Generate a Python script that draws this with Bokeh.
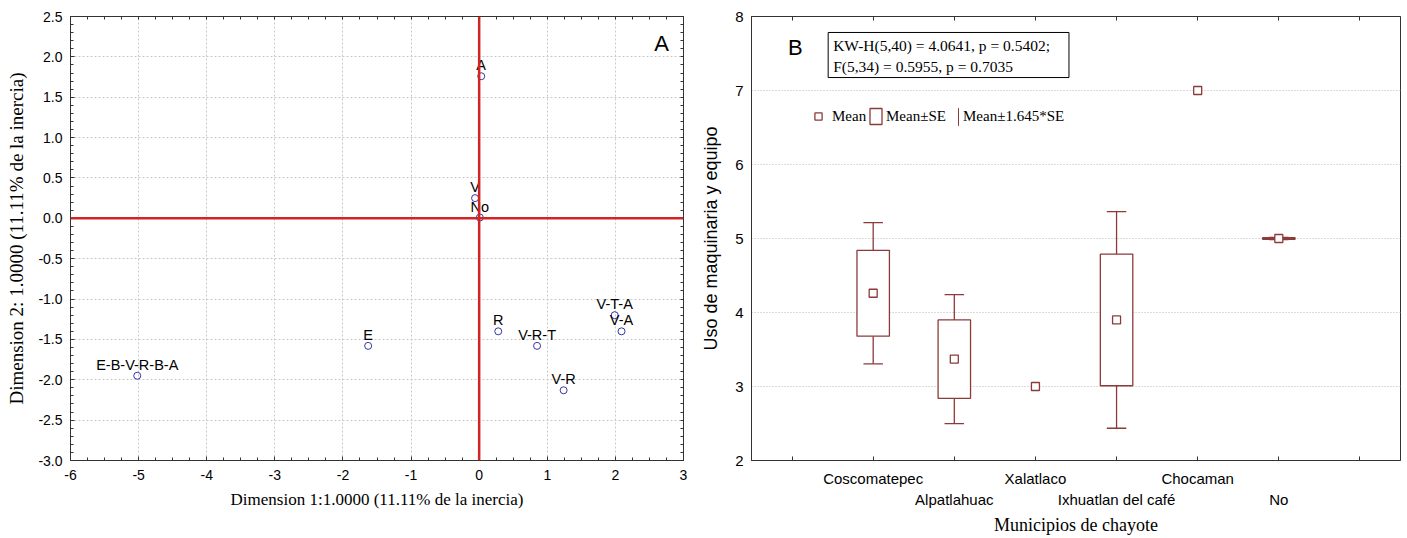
import math
import numpy as np
from bokeh.plotting import figure
from bokeh.layouts import row
from bokeh.models import (Span, Label, Legend, LegendItem, FixedTicker, LinearAxis,
                          ColumnDataSource, Range1d)
from bokeh.embed import file_html
from bokeh.resources import INLINE
from bokeh.core.properties import value

# ---------------- Panel A data (correspondence analysis) ----------------
ca_labels = ["A", "V", "No", "E", "E-B-V-R-B-A", "R", "V-R-T", "V-R", "V-T-A", "V-A"]
ca_dim1 = [0.03, -0.06, 0.01, -1.63, -5.02, 0.28, 0.85, 1.24, 1.99, 2.09]
ca_dim2 = [1.76, 0.25, 0.01, -1.58, -1.95, -1.40, -1.58, -2.13, -1.20, -1.40]
ca_x_ticks = [-6, -5, -4, -3, -2, -1, 0, 1, 2, 3]
ca_y_ticks = [-3.0, -2.5, -2.0, -1.5, -1.0, -0.5, 0.0, 0.5, 1.0, 1.5, 2.0, 2.5]

# ---------------- Panel B data (means by municipality) ----------------
municipios = ["Coscomatepec", "Alpatlahuac", "Xalatlaco", "Ixhuatlan del café", "Chocaman", "No"]
media = [4.26, 3.37, 3.0, 3.90, 7.0, 5.0]
error_std = [0.58, 0.53, 0.0, 0.89, 0.0, 0.01]
b_y_ticks = [2, 3, 4, 5, 6, 7, 8]
stats_text = "KW-H(5,40) = 4.0641, p = 0.5402;\nF(5,34) = 0.5955, p = 0.7035"

SANS = "Liberation Sans"
SERIF = "Liberation Serif"
RED = "#8c3b3b"
FRAME = "#333333"

x_minor = [t / 4 for t in range(-24, 13)]
y_minor = [t / 10 for t in range(-30, 26)]

# ======================= Panel A =======================
p1 = figure(width=698, height=538, x_range=Range1d(-6, 3), y_range=Range1d(-3, 2.5),
            output_backend="svg", toolbar_location=None,
            min_border_left=70, min_border_right=15, min_border_top=16, min_border_bottom=78)
p1.outline_line_color = FRAME
p1.background_fill_color = "white"
for g in (p1.xgrid[0], p1.ygrid[0]):
    g.grid_line_color = "#c8c8c8"
    g.grid_line_dash = "2 2"
p1.xgrid[0].ticker = FixedTicker(ticks=ca_x_ticks)
p1.ygrid[0].ticker = FixedTicker(ticks=ca_y_ticks)
p1.xaxis.ticker = FixedTicker(ticks=ca_x_ticks, minor_ticks=x_minor)
p1.yaxis.ticker = FixedTicker(ticks=ca_y_ticks, minor_ticks=y_minor)
p1.xaxis.major_label_overrides = {t: str(t) for t in ca_x_ticks}
p1.yaxis.major_label_overrides = {t: f"{t:.1f}" for t in ca_y_ticks}
for ax in (p1.xaxis[0], p1.yaxis[0]):
    ax.axis_line_color = FRAME
    ax.major_tick_line_color = FRAME
    ax.minor_tick_line_color = FRAME
    ax.major_tick_out = 0
    ax.major_tick_in = 4
    ax.minor_tick_out = 0
    ax.minor_tick_in = 3
    ax.major_label_text_font = SANS
    ax.major_label_text_font_size = "14px"
    ax.major_label_text_color = "black"
    ax.axis_label_text_font = SERIF
    ax.axis_label_text_font_style = "normal"
    ax.axis_label_text_color = "black"
p1.xaxis.axis_label_text_font_size = "17px"
p1.yaxis.axis_label_text_font_size = "19px"
p1.xaxis.major_label_standoff = 9
p1.xaxis.axis_label_standoff = 7
p1.yaxis.major_label_standoff = 8
p1.yaxis.axis_label_standoff = 8
p1.xaxis.axis_label = "Dimension 1:1.0000 (11.11% de la inercia)"
p1.yaxis.axis_label = "Dimension 2: 1.0000 (11.11% de la inercia)"

# tick marks on the top and right edges of the frame
top_a = LinearAxis(ticker=FixedTicker(ticks=[], minor_ticks=x_minor))
right_a = LinearAxis(ticker=FixedTicker(ticks=[], minor_ticks=y_minor))
for ax in (top_a, right_a):
    ax.axis_line_color = FRAME
    ax.minor_tick_line_color = FRAME
    ax.minor_tick_in = 3
    ax.minor_tick_out = 0
    ax.major_label_standoff = 0
p1.add_layout(top_a, "above")
p1.add_layout(right_a, "right")

p1.add_layout(Span(location=0, dimension="height", line_color="#d22424", line_width=2.5))
p1.add_layout(Span(location=0, dimension="width", line_color="#d22424", line_width=2.5))

src_a = ColumnDataSource(dict(x=ca_dim1, y=ca_dim2, t=ca_labels))
p1.scatter("x", "y", source=src_a, marker="circle", size=7, fill_color=None,
           line_color="#3535a5", line_width=1)
p1.text("x", "y", text="t", source=src_a, text_align="center", text_baseline="bottom",
        y_offset=-3, text_font=value(SANS), text_font_size="14.5px", text_color="black")
p1.add_layout(Label(x=2.68, y=2.17, text="A", text_align="center", text_baseline="middle",
                    text_font=SANS, text_font_size="22px", text_color="black"))

# ======================= Panel B =======================
xs = list(range(1, len(municipios) + 1))
p2 = figure(width=709, height=538, x_range=Range1d(-0.5, 7.5), y_range=Range1d(2, 8),
            output_backend="svg", toolbar_location=None,
            min_border_left=50, min_border_right=7, min_border_top=16, min_border_bottom=78)
p2.outline_line_color = FRAME
p2.xgrid.visible = False
p2.ygrid[0].grid_line_color = "#b8b8b8"
p2.ygrid[0].grid_line_dash = "1 2"
p2.yaxis.ticker = FixedTicker(ticks=b_y_ticks)
ya = p2.yaxis[0]
ya.axis_line_color = FRAME
ya.major_tick_line_color = None
ya.minor_tick_line_color = None
ya.major_tick_out = 0
ya.major_tick_in = 0
ya.major_label_text_font = SANS
ya.major_label_text_font_size = "15px"
ya.major_label_text_color = "black"
ya.major_label_standoff = 8
ya.axis_label = "Uso de maquinaria y equipo"
ya.axis_label_text_font = SANS
ya.axis_label_text_font_style = "normal"
ya.axis_label_text_font_size = "18px"
ya.axis_label_text_color = "black"
ya.axis_label_standoff = 11

edge_ticks = [0, len(municipios) + 1]
xa = p2.xaxis[0]
xa.ticker = FixedTicker(ticks=xs, minor_ticks=edge_ticks)
xa.major_label_overrides = {i: (municipios[i - 1] if i % 2 == 1 else "\n" + municipios[i - 1])
                            for i in xs}
xa.axis_line_color = FRAME
xa.major_tick_line_color = FRAME
xa.minor_tick_line_color = FRAME
xa.major_tick_in = 4
xa.major_tick_out = 0
xa.minor_tick_in = 4
xa.minor_tick_out = 0
xa.major_label_text_font = SANS
xa.major_label_text_font_size = "15px"
xa.major_label_text_color = "black"
xa.major_label_text_line_height = 1.25
xa.major_label_standoff = 9
xa.axis_label = "Municipios de chayote"
xa.axis_label_text_font = SERIF
xa.axis_label_text_font_style = "normal"
xa.axis_label_text_font_size = "18px"
xa.axis_label_text_color = "black"
xa.axis_label_standoff = 4

top_b = LinearAxis(ticker=FixedTicker(ticks=[], minor_ticks=list(range(0, len(municipios) + 2))))
top_b.axis_line_color = FRAME
top_b.minor_tick_line_color = FRAME
top_b.minor_tick_in = 4
top_b.minor_tick_out = 0
top_b.major_label_standoff = 0
p2.add_layout(top_b, "above")

box_x = [x for x, s in zip(xs, error_std) if s > 0]
box_m = [m for m, s in zip(media, error_std) if s > 0]
box_s = [s for s in error_std if s > 0]
src_box = ColumnDataSource(dict(
    left=[x - 0.2 for x in box_x], right=[x + 0.2 for x in box_x],
    bottom=[m - s for m, s in zip(box_m, box_s)], top=[m + s for m, s in zip(box_m, box_s)],
    x=box_x, lo=[m - 1.645 * s for m, s in zip(box_m, box_s)],
    hi=[m + 1.645 * s for m, s in zip(box_m, box_s)],
    cl=[x - 0.12 for x in box_x], cr=[x + 0.12 for x in box_x]))

p2.segment(x0="x", y0="lo", x1="x", y1="hi", source=src_box, line_color=RED, line_width=1.3)
p2.segment(x0="cl", y0="lo", x1="cr", y1="lo", source=src_box, line_color=RED, line_width=1.3)
p2.segment(x0="cl", y0="hi", x1="cr", y1="hi", source=src_box, line_color=RED, line_width=1.3)
r_box = p2.quad(left="left", right="right", bottom="bottom", top="top", source=src_box,
                fill_color="white", line_color=RED, line_width=1.3)
r_mean = p2.scatter(xs, media, marker="square", size=8, fill_color="white",
                    line_color=RED, line_width=1.3)
# legend key for the whisker: an outline with no width (a vertical bar), draws nothing in the plot
nan = np.array([np.nan])
r_wh_key = p2.quad(left=nan, right=nan, bottom=nan, top=nan, fill_color=None,
                   line_color=RED, line_width=1.3)

common = dict(orientation="horizontal", background_fill_alpha=0, border_line_color=None,
              padding=0, margin=0, label_text_font=SERIF, label_text_font_size="15px",
              label_text_color="black")
p2.add_layout(Legend(items=[LegendItem(label="Mean", renderers=[r_mean])],
                     location=(58, 335), glyph_width=18, glyph_height=18, label_standoff=5,
                     **common), "center")
p2.add_layout(Legend(items=[LegendItem(label="Mean±SE", renderers=[r_box])],
                     location=(117, 334), glyph_width=15, glyph_height=20, label_standoff=3,
                     **common), "center")
p2.add_layout(Legend(items=[LegendItem(label="Mean±1.645*SE", renderers=[r_wh_key])],
                     location=(207, 333), glyph_width=1, glyph_height=21, label_standoff=4,
                     **common), "center")

p2.add_layout(Label(x=0.04, y=7.58, text="B", text_align="center", text_baseline="middle",
                    text_font=SANS, text_font_size="22px", text_color="black"))
p2.add_layout(Label(x=0.445, y=7.784, text=stats_text, text_align="left", text_baseline="top",
                    text_font=SERIF, text_font_size="15.5px", text_color="black",
                    text_line_height=1.18,
                    border_line_color="black", border_line_width=1,
                    background_fill_color="white", padding=(5, 19, 5, 3)))

layout = row(p1, p2, spacing=0)
open("out.html", "w").write(file_html(layout, INLINE))
